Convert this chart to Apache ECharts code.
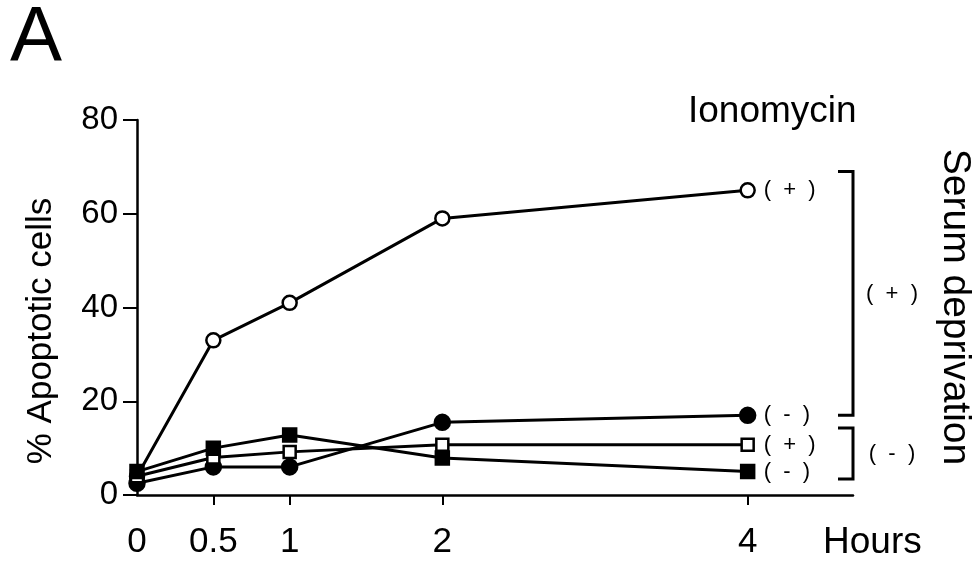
<!DOCTYPE html>
<html>
<head>
<meta charset="utf-8">
<script src="https://cdn.jsdelivr.net/npm/echarts@6/dist/echarts.min.js"></script>
<style>
  html, body { margin: 0; padding: 0; background: #fff; }
  #chart { width: 972px; height: 565px; }
</style>
</head>
<body>
<div id="chart"></div>
<script>
  // time points (hours)
  const hours = [0, 0.5, 1, 2, 4]
  const xTickValues = [0.5, 1, 2, 4]
  const xLabelValues = [0, 0.5, 1, 2, 4]

  // % apoptotic cells
  const ionoSerum = [4, 33, 41, 59, 65]        // open circle
  const ctrlSerum = [2.5, 6, 6, 15.5, 17]      // filled circle
  const ionoNoSerum = [4, 8, 9.2, 10.7, 10.7]  // open square
  const ctrlNoSerum = [5, 10, 12.8, 7.9, 5]    // filled square

  const endLabels = ['(  +  )', '(  -  )', '(  +  )', '(  -  )']
  // serum deprivation brackets: [low, high, label]
  const brackets = [[17, 69, '(  +  )'], [3.4, 14.3, '(  -  )']]

  const font = '"Liberation Sans", Arial, sans-serif'
  const chart = echarts.init(document.getElementById('chart'))

  const pairs = arr => hours.map((h, i) => [h, arr[i]])

  const mkSeries = (data, symbol, size, filled, label) => ({
    type: 'line',
    data: pairs(data),
    symbol: symbol,
    symbolSize: size,
    showSymbol: true,
    animation: false,
    lineStyle: { color: '#000', width: 3 },
    itemStyle: { color: filled ? '#000' : '#fff', borderColor: '#000', borderWidth: 2.5 },
    endLabel: {
      show: true, formatter: label, distance: 16,
      fontFamily: font, fontSize: 22, color: '#000'
    }
  })

  const option = {
    animation: false,
    grid: { left: 137, right: 119, top: 120, bottom: 70 },
    xAxis: {
      type: 'value', min: 0, max: 4.69,
      axisLine: { lineStyle: { color: '#000', width: 2.5 } },
      axisTick: { show: true, length: 10, customValues: xTickValues, lineStyle: { color: '#000', width: 2 } },
      axisLabel: {
        customValues: xLabelValues, margin: 30,
        fontFamily: font, fontSize: 35, color: '#000'
      },
      splitLine: { show: false }
    },
    yAxis: {
      type: 'value', min: 0, max: 80, interval: 20,
      axisLine: { show: true, lineStyle: { color: '#000', width: 2.5 } },
      axisTick: { show: true, length: 14, lineStyle: { color: '#000', width: 2 } },
      axisLabel: { margin: 19, fontFamily: font, fontSize: 33, color: '#000' },
      splitLine: { show: false }
    },
    series: [
      mkSeries(ionoSerum, 'circle', 14, false, endLabels[0]),
      mkSeries(ctrlSerum, 'circle', 15, true, endLabels[1]),
      mkSeries(ionoNoSerum, 'rect', 12, false, endLabels[2]),
      mkSeries(ctrlNoSerum, 'rect', 13, true, endLabels[3])
    ]
  }
  chart.setOption(option)

  const px = (x, y) => chart.convertToPixel({ gridIndex: 0 }, [x, y])
  const graphic = [
    { type: 'text', left: 10, top: 0, style: { text: 'A', font: '78px ' + font, fill: '#000' } },
    { type: 'text', x: 688, y: 112, style: { text: 'Ionomycin', font: '37px ' + font, fill: '#000', verticalAlign: 'middle' } },
    { type: 'text', x: 823, y: 543, style: { text: 'Hours', font: '37px ' + font, fill: '#000', verticalAlign: 'middle' } },
    { type: 'text', x: 41, y: 331, rotation: Math.PI / 2,
      style: { text: '% Apoptotic cells', font: '35px ' + font, fill: '#000', align: 'center', verticalAlign: 'middle' } },
    { type: 'text', x: 955, y: 307, rotation: -Math.PI / 2,
      style: { text: 'Serum deprivation', font: '39px ' + font, fill: '#000', align: 'center', verticalAlign: 'middle' } }
  ]
  brackets.forEach(b => {
    const top = px(4.69, b[1])
    const bot = px(4.69, b[0])
    const left = top[0] - 15
    graphic.push({
      type: 'polyline',
      shape: { points: [[left, top[1]], [top[0], top[1]], [bot[0], bot[1]], [left, bot[1]]] },
      style: { stroke: '#000', lineWidth: 3, fill: null }
    })
    graphic.push({
      type: 'text', x: top[0] + 39, y: (top[1] + bot[1]) / 2,
      style: { text: b[2], font: '22px ' + font, fill: '#000', align: 'center', verticalAlign: 'middle' }
    })
  })
  chart.setOption({ graphic: graphic })
</script>
</body>
</html>
